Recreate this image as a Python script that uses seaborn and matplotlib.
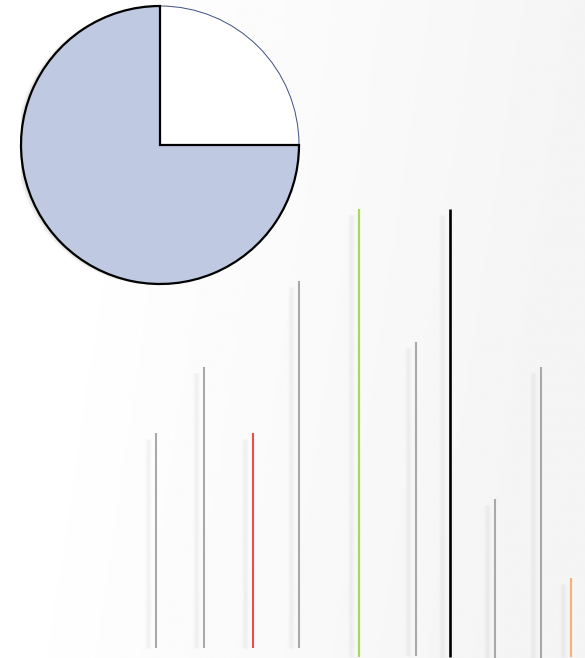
import numpy as np
import pandas as pd
import seaborn as sns
import matplotlib.pyplot as plt

# pie shares
pie_labels = ["rest", "filled"]
pie_values = [25, 75]

# vertical strokes (pixel space of the picture, y grows downwards)
stroke_x = [156, 204, 253, 299, 359, 416, 450, 495, 541, 571]
stroke_top = [433, 367, 433, 281, 209, 342, 209, 499, 367, 578]
stroke_bottom = [648, 648, 648, 648, 657, 656, 657, 658, 658, 657]
stroke_color = ["#a9a9a9", "#a9a9a9", "#f24b4b", "#a9a9a9", "#a6d85a",
                "#a9a9a9", "#000000", "#a9a9a9", "#a9a9a9", "#f1b27c"]
stroke_width = [1.5, 1.5, 1.5, 1.5, 1.6, 1.5, 1.9, 1.5, 1.5, 1.6]

df = pd.DataFrame({"x": stroke_x, "top": stroke_top, "bottom": stroke_bottom,
                   "color": stroke_color, "lw": stroke_width})

sns.set_theme(style="white")

W, H = 585, 658
fig = plt.figure(figsize=(W / 100, H / 100), dpi=100)

ax = fig.add_axes([0, 0, 1, 1])
ax.set_xlim(0, W)
ax.set_ylim(H, 0)
ax.axis("off")

# soft background: white on the left fading to light grey to the right
gx = np.linspace(0, 1, 200)
gy = np.linspace(0, 1, 200)
GX, GY = np.meshgrid(gx, gy)
shade = 1 - 0.04 * np.clip(GX * 1.2 - 0.2 + 0.2 * GY, 0, 1)
ax.imshow(shade, extent=[0, W, H, 0], cmap="gray", vmin=0, vmax=1,
          aspect="auto", zorder=0)

# blurred shadows then strokes
for off in np.arange(-13, -3, 1.0):
    a = 0.035 * np.exp(-((off + 8) / 2.5) ** 2)
    ax.vlines(df["x"] + off, df["top"] + 6, df["bottom"], colors="#000000",
              linewidth=0.9, alpha=a, zorder=1)
for _, r in df.iterrows():
    ax.vlines(r["x"], r["top"], r["bottom"], colors=r["color"],
              linewidth=r["lw"], zorder=2)

# pie
cx, cy, rad = 160, 145, 139
pax = fig.add_axes([(cx - rad) / W, (H - cy - rad) / H, 2 * rad / W, 2 * rad / H])

for off in np.linspace(0.0, 0.035, 6):
    pax.add_patch(plt.Circle((-off, -off * 0.2), 1.0, color="black", alpha=0.03,
                             lw=0, zorder=0))

wedges, _ = pax.pie(pie_values, startangle=90, counterclock=False,
                    colors=["white", "#bfcae2"], radius=1.0)
wedges[0].set_edgecolor("#3f4f80")
wedges[0].set_linewidth(0.7)
wedges[0].set_zorder(2)
wedges[1].set_edgecolor("black")
wedges[1].set_linewidth(1.6)
wedges[1].set_zorder(3)

pax.set_xlim(-1.0, 1.0)
pax.set_ylim(-1.0, 1.0)
pax.set_aspect("equal")
pax.axis("off")
for w in wedges:
    w.set_clip_on(False)

fig.savefig("out.png", dpi=100)
